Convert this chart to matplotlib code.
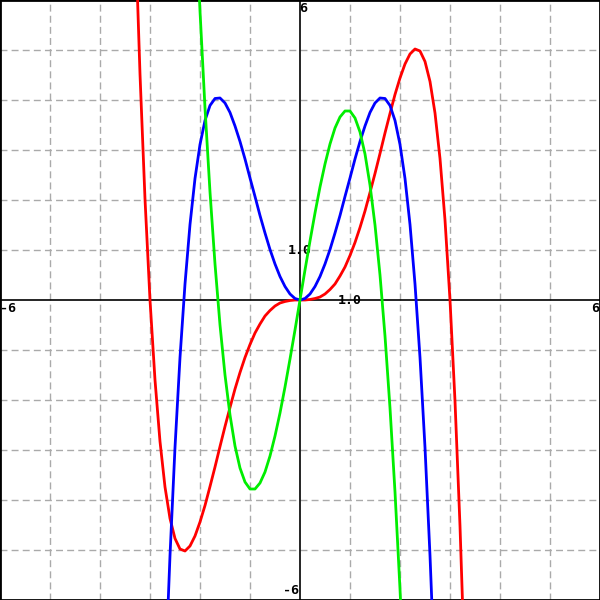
import matplotlib
matplotlib.use("Agg")
import matplotlib.pyplot as plt

# values
x_red = [-3.3, -3.2, -3.1, -3.0, -2.9, -2.8, -2.7, -2.6, -2.5, -2.4, -2.3, -2.2, -2.1, -2.0,
         -1.9, -1.8, -1.7, -1.6, -1.5, -1.4, -1.3, -1.2, -1.1, -1.0, -0.9, -0.8, -0.7, -0.6,
         -0.5, -0.4, -0.3, -0.2, -0.1, 0.0, 0.1, 0.2, 0.3, 0.4, 0.5, 0.6, 0.7, 0.8, 0.9, 1.0,
         1.1, 1.2, 1.3, 1.4, 1.5, 1.6, 1.7, 1.8, 1.9, 2.0, 2.1, 2.2, 2.3, 2.4, 2.5, 2.6, 2.7,
         2.8, 2.9, 3.0, 3.1, 3.2, 3.3]
y_red = [7.55, 4.52, 2.02, 0.0, -1.60, -2.83, -3.74, -4.37, -4.77, -4.98, -5.02, -4.92, -4.72,
         -4.44, -4.11, -3.73, -3.34, -2.93, -2.53, -2.15, -1.78, -1.45, -1.15, -0.89, -0.66,
         -0.48, -0.32, -0.21, -0.12, -0.06, -0.03, -0.01, 0.0, 0.0, 0.0, 0.01, 0.03, 0.06, 0.12,
         0.21, 0.32, 0.48, 0.66, 0.89, 1.15, 1.45, 1.78, 2.15, 2.53, 2.93, 3.34, 3.73, 4.11,
         4.44, 4.72, 4.92, 5.02, 4.98, 4.77, 4.37, 3.74, 2.83, 1.60, 0.0, -2.02, -4.52, -7.55]

x_blue = [-2.7, -2.6, -2.5, -2.4, -2.3, -2.2, -2.1, -2.0, -1.9, -1.8, -1.7, -1.6, -1.5, -1.4,
          -1.3, -1.2, -1.1, -1.0, -0.9, -0.8, -0.7, -0.6, -0.5, -0.4, -0.3, -0.2, -0.1, 0.0,
          0.1, 0.2, 0.3, 0.4, 0.5, 0.6, 0.7, 0.8, 0.9, 1.0, 1.1, 1.2, 1.3, 1.4, 1.5, 1.6, 1.7,
          1.8, 1.9, 2.0, 2.1, 2.2, 2.3, 2.4, 2.5, 2.6, 2.7]
y_blue = [-7.65, -5.11, -2.95, -1.15, 0.32, 1.51, 2.43, 3.11, 3.59, 3.89, 4.03, 4.04, 3.94,
          3.75, 3.48, 3.17, 2.82, 2.44, 2.07, 1.69, 1.34, 1.01, 0.72, 0.47, 0.27, 0.12, 0.03,
          0.0, 0.03, 0.12, 0.27, 0.47, 0.72, 1.01, 1.34, 1.69, 2.07, 2.44, 2.82, 3.17, 3.48,
          3.75, 3.94, 4.04, 4.03, 3.89, 3.59, 3.11, 2.43, 1.51, 0.32, -1.15, -2.95, -5.11, -7.65]

x_green = [-2.1, -2.0, -1.9, -1.8, -1.7, -1.6, -1.5, -1.4, -1.3, -1.2, -1.1, -1.0, -0.9, -0.8,
           -0.7, -0.6, -0.5, -0.4, -0.3, -0.2, -0.1, 0.0, 0.1, 0.2, 0.3, 0.4, 0.5, 0.6, 0.7,
           0.8, 0.9, 1.0, 1.1, 1.2, 1.3, 1.4, 1.5, 1.6, 1.7, 1.8, 1.9, 2.0, 2.1]
y_green = [7.98, 5.78, 3.84, 2.16, 0.72, -0.50, -1.50, -2.30, -2.92, -3.36, -3.64, -3.78, -3.78,
           -3.66, -3.44, -3.12, -2.72, -2.26, -1.74, -1.18, -0.60, 0.0, 0.60, 1.18, 1.74, 2.26,
           2.72, 3.12, 3.44, 3.66, 3.78, 3.78, 3.64, 3.36, 2.92, 2.30, 1.50, 0.50, -0.72, -2.16,
           -3.84, -5.78, -7.98]

grid_ticks = [-5, -4, -3, -2, -1, 1, 2, 3, 4, 5]

fig = plt.figure(figsize=(6, 6), dpi=100)
ax = fig.add_axes([0, 0, 1, 1])
ax.set_xlim(-6, 6)
ax.set_ylim(-6, 6)
ax.set_xticks([])
ax.set_yticks([])
for s in ax.spines.values():
    s.set_color("black")
    s.set_linewidth(2)

for t in grid_ticks:
    ax.axvline(t, color="#aaaaaa", lw=1, ls=(0, (5, 3)), zorder=1)
    ax.axhline(t, color="#aaaaaa", lw=1, ls=(0, (5, 3)), zorder=1)
ax.axhline(0, color="black", lw=1.2, zorder=2)
ax.axvline(0, color="black", lw=1.2, zorder=2)

lbl = dict(fontsize=9.5, fontweight="bold", family="DejaVu Sans Mono", color="black", zorder=3)
ax.text(-0.01, 5.97, "6", ha="left", va="top", **lbl)
ax.text(-6.0, -0.05, "-6", ha="left", va="top", **lbl)
ax.text(5.99, -0.05, "6", ha="right", va="top", **lbl)
ax.text(-0.02, -5.93, "-6", ha="right", va="bottom", **lbl)
ax.text(0, 0.98, "1.0", ha="center", va="center", **lbl)
ax.text(1, -0.02, "1.0", ha="center", va="center", **lbl)

ax.plot(x_red, y_red, color="#ff0000", lw=2, zorder=4)
ax.plot(x_blue, y_blue, color="#0000ff", lw=2, zorder=4)
ax.plot(x_green, y_green, color="#00ee00", lw=2, zorder=4)

fig.savefig("out.png", dpi=100)
